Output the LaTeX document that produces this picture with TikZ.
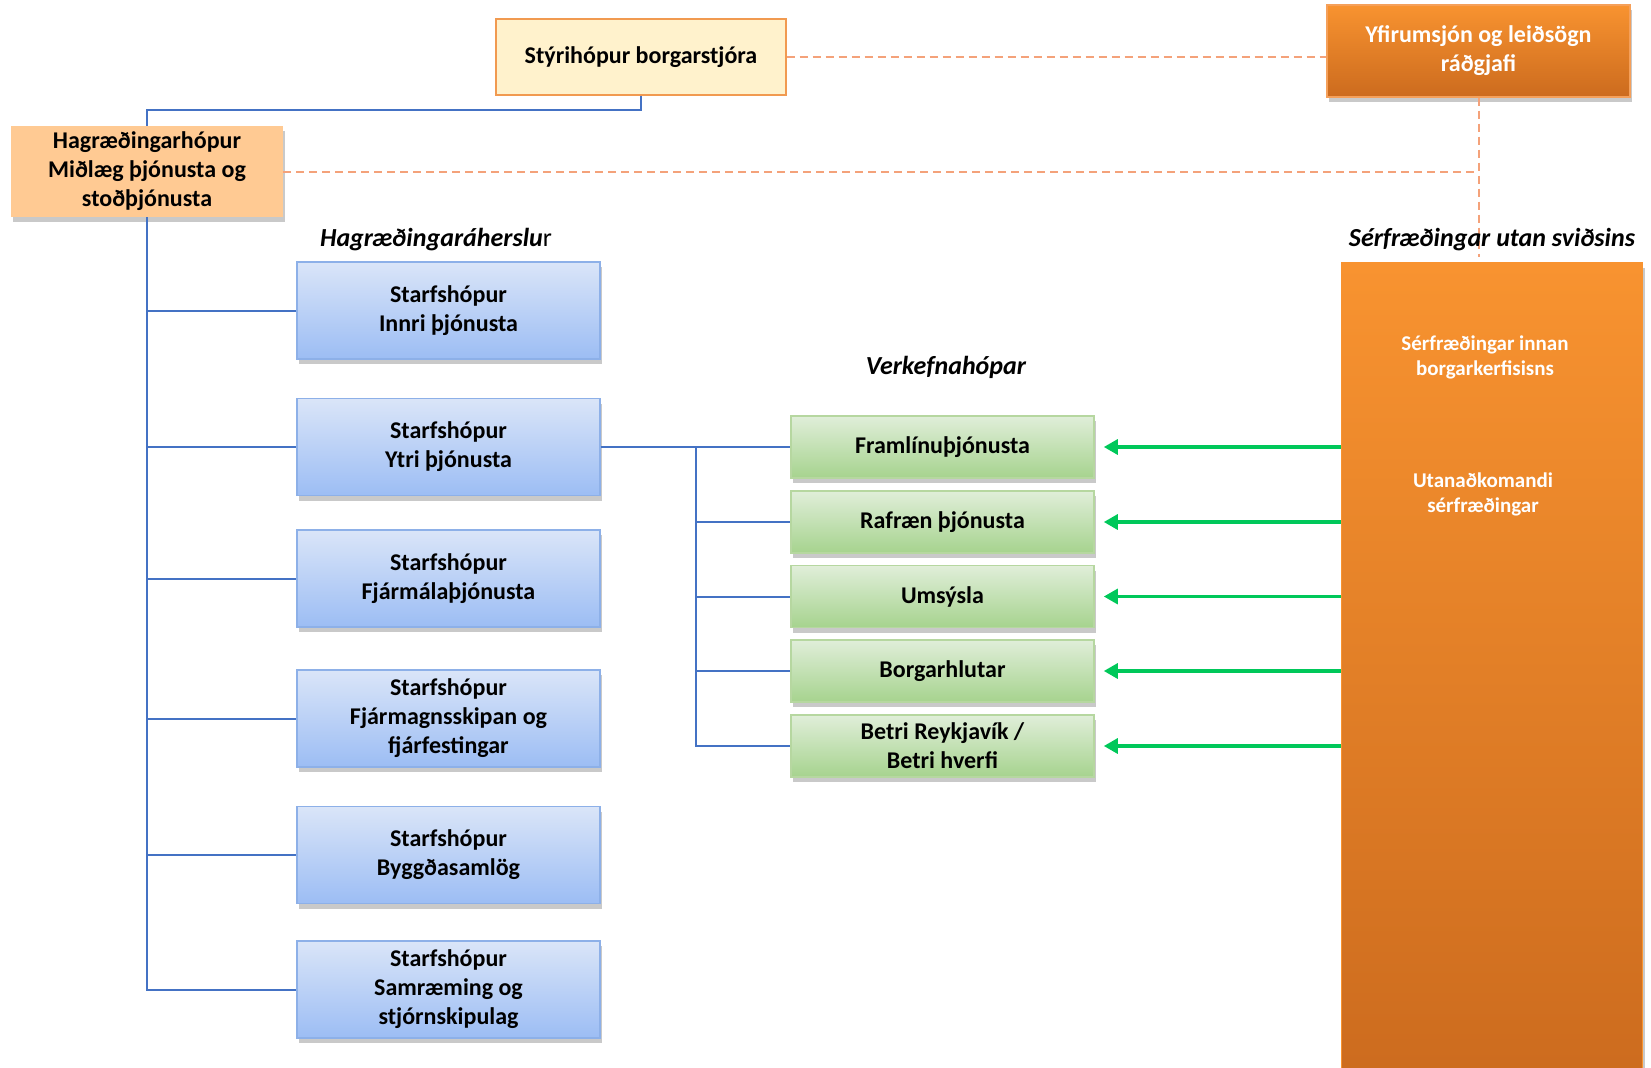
\documentclass[tikz,border=0pt]{standalone}
\usepackage{fontspec}
\setmainfont{Carlito}
\usetikzlibrary{shadows,arrows.meta,calc}
\definecolor{steerfill}{HTML}{FFF2CC}
\definecolor{steerdraw}{HTML}{F19A50}
\definecolor{hagrfill}{HTML}{FFCA93}
\definecolor{bluetop}{HTML}{DAE5F8}
\definecolor{bluebot}{HTML}{9CBDF4}
\definecolor{blueborder}{HTML}{8DB0E8}
\definecolor{greentop}{HTML}{E0EED9}
\definecolor{greenbot}{HTML}{A6D38E}
\definecolor{greenborder}{HTML}{B6D7A0}
\definecolor{orangetop}{HTML}{F89330}
\definecolor{orangebot}{HTML}{CC6B1E}
\definecolor{orangeborder}{HTML}{F5A05A}
\definecolor{dashcol}{HTML}{F4A27A}
\definecolor{linecol}{HTML}{4472C4}
\definecolor{arrowcol}{HTML}{00C85A}
\tikzset{
  every node/.style={font=\fontsize{12pt}{14.5pt}\selectfont\bfseries, align=center, inner sep=0pt},
  shadowed/.style={drop shadow={shadow xshift=1pt, shadow yshift=-2.5pt, opacity=0.3, fill=black!70}},
  steerbox/.style={draw=steerdraw, line width=0.6pt, fill=steerfill, minimum width=145pt, minimum height=38pt},
  hagrbox/.style={shadowed, fill=hagrfill, minimum width=136pt, minimum height=45.5pt},
  yfbox/.style={shadowed, draw=orangeborder, line width=0.6pt, top color=orangetop, bottom color=orangebot, text=white, minimum width=151.5pt, minimum height=46pt},
  bigbox/.style={shadowed, draw=orangetop, line width=0.6pt, top color=orangetop, bottom color=orangebot, minimum width=150.75pt, minimum height=411pt},
  bluebox/.style={shadowed, draw=blueborder, line width=0.6pt, top color=bluetop, bottom color=bluebot, minimum width=151.5pt, minimum height=48.5pt},
  greenbox/.style={shadowed, draw=greenborder, line width=0.8pt, top color=greentop, bottom color=greenbot, minimum width=151.5pt, minimum height=31pt},
  conn/.style={draw=linecol, line width=1pt},
  dashline/.style={draw=dashcol, line width=1pt, dash pattern=on 4pt off 2.5pt},
  garrow/.style={draw=arrowcol, line width=1.6pt, -{Triangle[length=7pt,width=7.5pt]}, shorten >=4.5pt},
  heading/.style={font=\fontsize{13pt}{15pt}\selectfont\bfseries\itshape},
  whitetext/.style={text=white, font=\fontsize{10.5pt}{12.5pt}\selectfont\bfseries}
}
\begin{document}
\begin{tikzpicture}[x=0.5pt,y=-0.5pt]
\useasboundingbox (0,0) rectangle (1651,1067);
% top nodes
\node[steerbox] (steer) at (641,57) {Stýrihópur borgarstjóra};
\node[yfbox] (yf) at (1478.5,51) {Yfirumsjón og leiðsögn\\ráðgjafi};
\node[hagrbox] (hagr) at (147,171.5) {Hagræðingarhópur\\Miðlæg þjónusta og\\stoðþjónusta};
% big orange box
\node[bigbox] (big) at (1492,674) {};
\node[whitetext] (inn) at (1485,357) {Sérfræðingar innan\\borgarkerfisisns};
\node[whitetext] (utan) at (1483,494) {Utanaðkomandi\\sérfræðingar};
% dashed lines
\draw[dashline] (steer.east) -- (steer.east -| yf.west);
\draw[dashline] (hagr.east) -- (hagr.east -| yf.south);
\draw[dashline] (yf.south) -- ($(yf.south |- big.north)+(0,-5)$);
% headings
\node[heading] (lhag) at (436,240) {Hagræðingaráherslu{\upshape\mdseries r}};
\node[heading] (lverk) at (946,367.5) {Verkefnahópar};
\node[heading] (lserf) at (1492,240) {Sérfræðingar utan sviðsins};
% blue boxes
\node[bluebox] (b1) at (448.5,310.5) {Starfshópur\\Innri þjónusta};
\node[bluebox] (b2) at (448.5,447) {Starfshópur\\Ytri þjónusta};
\node[bluebox] (b3) at (448.5,578.5) {Starfshópur\\Fjármálaþjónusta};
\node[bluebox] (b4) at (448.5,718.5) {Starfshópur\\Fjármagnsskipan og\\fjárfestingar};
\node[bluebox] (b5) at (448.5,855) {Starfshópur\\Byggðasamlög};
\node[bluebox] (b6) at (448.5,989.5) {Starfshópur\\Samræming og\\stjórnskipulag};
% green boxes
\node[greenbox] (g1) at (942.5,447) {Framlínuþjónusta};
\node[greenbox] (g2) at (942.5,522) {Rafræn þjónusta};
\node[greenbox] (g3) at (942.5,596.5) {Umsýsla};
\node[greenbox] (g4) at (942.5,671) {Borgarhlutar};
\node[greenbox] (g5) at (942.5,746) {Betri Reykjavík /\\Betri hverfi};
% blue connectors
\draw[conn] (steer.south) -- ++(0,14.5) -| (hagr.north);
\foreach \b in {b1,b2,b3,b4,b5,b6} { \draw[conn] (hagr.south) |- (\b.west); }
\coordinate (jn) at ($(b2.east)+(95,0)$);
\draw[conn] (b2.east) -- (jn);
\foreach \g in {g1,g2,g3,g4,g5} { \draw[conn] (jn) |- (\g.west); }
% green arrows
\foreach \g in {g1,g2,g3,g4,g5} { \draw[garrow] (big.west |- \g.east) -- (\g.east); }
\end{tikzpicture}
\end{document}
